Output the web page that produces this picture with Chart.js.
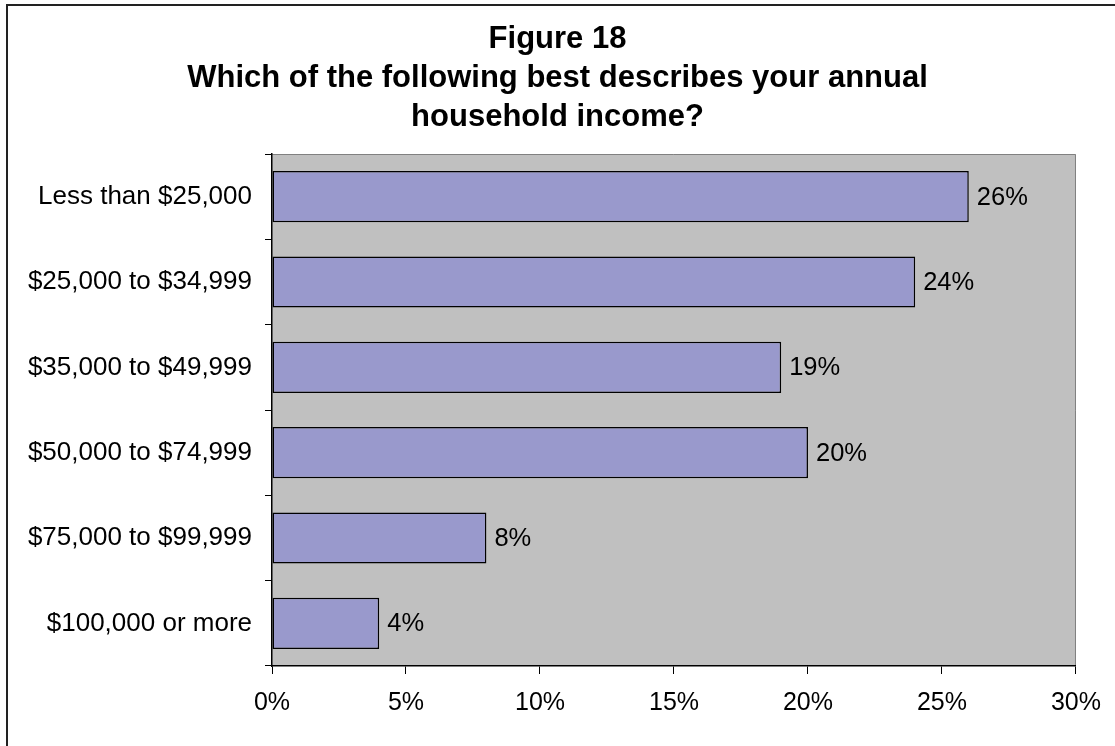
<!DOCTYPE html>
<html>
<head>
<meta charset="utf-8">
<script src="https://cdn.jsdelivr.net/npm/chart.js@4/dist/chart.umd.min.js"></script>
<style>
  html, body { margin: 0; padding: 0; background: #fff; }
  #wrap { width: 1115px; height: 746px; position: relative; }
</style>
</head>
<body>
<div id="wrap"><canvas id="incomeChart"></canvas></div>
<script>
const categories = [
    'Less than $25,000',
    '$25,000 to $34,999',
    '$35,000 to $49,999',
    '$50,000 to $74,999',
    '$75,000 to $99,999',
    '$100,000 or more'
];
const percents = [26, 24, 19, 20, 8, 4];
const titleLines = [
    'Figure 18',
    'Which of the following best describes your annual',
    'household income?'
];

const FONT = '"Liberation Sans", Arial, sans-serif';

// Fondo gris del área de trazado y marco exterior
const plotBackground = {
    id: 'plotBackground',
    beforeDraw(chart) {
        const { ctx, chartArea: a } = chart;
        ctx.save();
        ctx.fillStyle = '#C0C0C0';
        ctx.fillRect(a.left, a.top, a.right - a.left, a.bottom - a.top);
        ctx.strokeStyle = '#808080';
        ctx.lineWidth = 1;
        ctx.beginPath();
        ctx.moveTo(a.left, a.top + 0.5);
        ctx.lineTo(a.right - 0.5, a.top + 0.5);
        ctx.lineTo(a.right - 0.5, a.bottom);
        ctx.stroke();
        ctx.restore();
    },
    afterDraw(chart) {
        const ctx = chart.ctx;
        ctx.save();
        ctx.strokeStyle = '#222';
        ctx.lineWidth = 2;
        ctx.beginPath();
        ctx.moveTo(chart.width, 5);
        ctx.lineTo(7, 5);
        ctx.lineTo(7, chart.height);
        ctx.stroke();
        ctx.restore();
    }
};

// Etiquetas de porcentaje al final de cada barra
const valueLabels = {
    id: 'valueLabels',
    afterDatasetsDraw(chart) {
        const ctx = chart.ctx;
        const meta = chart.getDatasetMeta(0);
        ctx.save();
        ctx.font = '25.5px ' + FONT;
        ctx.fillStyle = '#000';
        ctx.textAlign = 'left';
        ctx.textBaseline = 'middle';
        meta.data.forEach((bar, i) => {
            ctx.fillText(percents[i] + '%', bar.x + 8, bar.y + 1);
        });
        ctx.restore();
    }
};

const ctx = document.getElementById('incomeChart').getContext('2d');
new Chart(ctx, {
    type: 'bar',
    data: {
        labels: categories,
        datasets: [{
            data: percents,
            backgroundColor: '#9999CC',
            borderColor: '#000',
            borderWidth: 1.5,
            borderSkipped: false,
            barPercentage: 0.6,
            categoryPercentage: 1
        }]
    },
    options: {
        indexAxis: 'y',
        responsive: true,
        maintainAspectRatio: false,
        animation: false,
        layout: { padding: 0 },
        plugins: {
            legend: { display: false },
            tooltip: { enabled: false },
            title: {
                display: true,
                text: titleLines,
                color: '#000',
                font: { family: FONT, size: 31, weight: 'bold', lineHeight: '39px' },
                padding: { top: 20, bottom: 17 }
            }
        },
        scales: {
            x: {
                min: 0,
                max: 30,
                ticks: {
                    stepSize: 5,
                    color: '#000',
                    font: { family: FONT, size: 25 },
                    padding: 14,
                    callback: v => v + '%'
                },
                grid: { drawOnChartArea: false, drawTicks: true, tickLength: 8, color: '#000' },
                border: { display: true, color: '#000', width: 1.5 },
                afterFit(scale) { scale.height = 80; }
            },
            y: {
                ticks: {
                    color: '#000',
                    font: { family: FONT, size: 26 },
                    padding: 13
                },
                grid: { drawOnChartArea: false, drawTicks: true, tickLength: 7, color: '#000', offset: true },
                border: { display: true, color: '#000', width: 1.5 },
                afterFit(scale) { scale.width = 272; }
            },
            // eje vacío a la derecha: deja el margen sin descentrar el título
            yRight: {
                axis: 'y',
                type: 'linear',
                position: 'right',
                ticks: { display: false },
                grid: { display: false },
                border: { display: false },
                afterFit(scale) { scale.width = 39; }
            }
        }
    },
    plugins: [plotBackground, valueLabels]
});
</script>
</body>
</html>
